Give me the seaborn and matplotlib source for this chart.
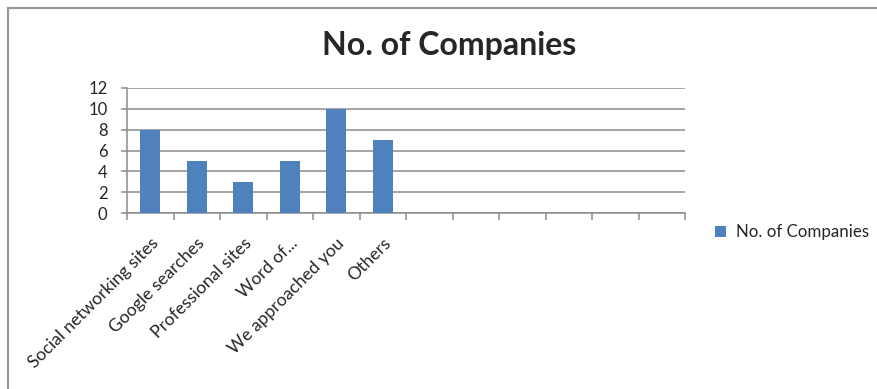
import matplotlib
matplotlib.use("Agg")
import matplotlib.pyplot as plt
from matplotlib.lines import Line2D
from matplotlib.patches import Patch
import seaborn as sns
import pandas as pd

categories = ["Social networking sites", "Google searches", "Professional sites",
              "Word of...", "We approached you", "Others"]
companies = [8, 5, 3, 5, 10, 7]
n_slots = 12
y_ticks = [0, 2, 4, 6, 8, 10, 12]
title = "No. of Companies"
series_name = "No. of Companies"

bar_color = "#4F81BD"
grid_color = "#8C8C8C"

sns.set_theme(style="white")
plt.rcParams["font.family"] = ["Lato", "DejaVu Sans"]

df = pd.DataFrame({"source": categories, "count": companies})

fig = plt.figure(figsize=(8.77, 3.89), dpi=100)
ax = fig.add_axes([127 / 877, 1 - 213 / 389, (685 - 127) / 877, (213 - 88) / 389])

sns.barplot(data=df, x="source", y="count", color=bar_color, saturation=1,
            width=0.43, linewidth=0, ax=ax, zorder=3)

ax.set_xlim(-0.5, n_slots - 0.5)
ax.set_ylim(0, 12)
ax.set_yticks(y_ticks)
ax.yaxis.grid(True, color=grid_color, linewidth=1.1)
ax.set_axisbelow(True)
ax.set_xlabel("")
ax.set_ylabel("")

for side in ["top", "right"]:
    ax.spines[side].set_visible(False)
for side in ["left", "bottom"]:
    ax.spines[side].set_color(grid_color)
    ax.spines[side].set_linewidth(1.1)

# category labels at centres, tick marks on the category boundaries
ax.set_xticks(range(len(categories)))
ax.set_xticklabels(categories, rotation=45, ha="right", rotation_mode="anchor",
                   fontsize=12.6)
ax.tick_params(axis="x", which="major", length=0, pad=16)
ax.set_xticks([i - 0.5 for i in range(n_slots + 1)], minor=True)
ax.tick_params(axis="x", which="minor", length=5, width=1.1, color=grid_color,
               direction="out", bottom=True)
ax.tick_params(axis="y", length=4, width=1.1, color=grid_color, direction="out",
               left=True, labelsize=12, pad=10)

fig.text(449 / 877, 1 - 46 / 389, title, ha="center", va="center",
         fontsize=23, fontweight="bold")

handle = Patch(facecolor=bar_color, edgecolor="none")
fig.legend([handle], [series_name], loc="center left",
           bbox_to_anchor=(700 / 877, 1 - 232 / 389), frameon=False,
           fontsize=12.2, handlelength=0.62, handleheight=0.62, handletextpad=0.6)

# outer chart frame (left and top edges)
fig.add_artist(Line2D([8 / 877, 1], [1 - 8 / 389, 1 - 8 / 389],
                      transform=fig.transFigure, color="#9A9A9A", linewidth=1.6))
fig.add_artist(Line2D([8 / 877, 8 / 877], [0, 1 - 8 / 389],
                      transform=fig.transFigure, color="#9A9A9A", linewidth=1.6))

fig.savefig("out.png", dpi=100, facecolor="white")
